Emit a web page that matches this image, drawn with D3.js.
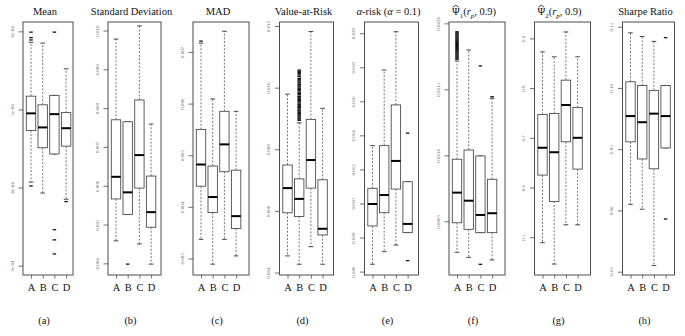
<!DOCTYPE html>
<html>
<head>
<meta charset="utf-8">
<script src="https://cdn.jsdelivr.net/npm/d3@7"></script>
<style>
  body { margin: 0; background: #fff; }
  svg { display: block; }
  svg text { font-family: "Liberation Serif", "DejaVu Serif", serif; }
</style>
</head>
<body>
<svg id="chart" width="685" height="336"></svg>
<script>
const categories = ['A', 'B', 'C', 'D']
const captions = ['(a)', '(b)', '(c)', '(d)', '(e)', '(f)', '(g)', '(h)']

// each box: [lower whisker, Q1, median, Q3, upper whisker]
const meanBoxes = [
  [4.07e-4, 4.73e-4, 4.95e-4, 5.17e-4, 5.86e-4],
  [3.93e-4, 4.51e-4, 4.77e-4, 5.06e-4, 5.85e-4],
  [4.43e-4, 4.43e-4, 4.94e-4, 5.18e-4, 5.18e-4],
  [3.85e-4, 4.53e-4, 4.76e-4, 4.96e-4, 5.52e-4]
]
const meanOutliers = [[5.89e-4, 5.92e-4, 5.99e-4, 4.02e-4], [], [5.99e-4, 3.46e-4, 3.33e-4, 3.15e-4], [3.82e-4]]
const meanTicks = [6e-4, 5e-4, 4e-4, 3e-4]
const meanTickLabels = ['6e-04', '5e-04', '4e-04', '3e-04']
const meanLimits = [2.88e-4, 6.12e-4]

const sdBoxes = [
  [4.58e-3, 5.66e-3, 6.23e-3, 7.70e-3, 9.78e-3],
  [5.26e-3, 5.26e-3, 5.83e-3, 7.65e-3, 7.65e-3],
  [4.50e-3, 5.94e-3, 6.79e-3, 8.21e-3, 10.12e-3],
  [3.98e-3, 4.93e-3, 5.32e-3, 6.25e-3, 7.59e-3]
]
const sdOutliers = [[], [3.98e-3], [], []]
const sdTicks = [0.010, 0.009, 0.008, 0.007, 0.006, 0.005, 0.004]
const sdTickLabels = ['0.010', '0.009', '0.008', '0.007', '0.006', '0.005', '0.004']
const sdLimits = [3.70e-3, 10.22e-3]

const madBoxes = [
  [3.37e-3, 4.40e-3, 4.82e-3, 5.50e-3, 7.17e-3],
  [2.89e-3, 3.89e-3, 4.19e-3, 4.79e-3, 6.09e-3],
  [3.37e-3, 4.68e-3, 5.21e-3, 5.85e-3, 7.40e-3],
  [3.05e-3, 3.58e-3, 3.82e-3, 4.71e-3, 5.85e-3]
]
const madOutliers = [[7.21e-3], [], [], []]
const madTicks = [0.007, 0.006, 0.005, 0.004, 0.003]
const madTickLabels = ['0.007', '0.006', '0.005', '0.004', '0.003']
const madLimits = [2.68e-3, 7.58e-3]

const varBoxes = [
  [4.54e-3, 5.94e-3, 6.74e-3, 7.49e-3, 9.79e-3],
  [4.27e-3, 5.82e-3, 6.39e-3, 7.04e-3, 8.86e-3],
  [4.84e-3, 6.74e-3, 7.65e-3, 8.97e-3, 11.82e-3],
  [4.27e-3, 5.22e-3, 5.42e-3, 7.01e-3, 9.33e-3]
]
const varOutliers = [
  [],
  [10.57e-3, 10.53e-3, 10.49e-3, 10.45e-3, 10.41e-3, 10.36e-3, 10.30e-3, 10.26e-3, 10.22e-3, 10.18e-3,
   10.15e-3, 10.10e-3, 10.06e-3, 10.02e-3, 9.98e-3, 9.94e-3, 9.90e-3, 9.85e-3, 9.81e-3, 9.77e-3,
   9.72e-3, 9.69e-3, 9.66e-3, 9.62e-3, 9.58e-3, 9.54e-3, 9.50e-3, 9.46e-3, 9.43e-3, 9.39e-3,
   9.35e-3, 9.31e-3, 9.27e-3, 9.24e-3, 9.20e-3, 9.16e-3, 9.12e-3, 9.08e-3, 9.05e-3, 9.01e-3,
   8.98e-3, 8.94e-3],
  [],
  []
]
const varTicks = [0.012, 0.010, 0.008, 0.006, 0.004]
const varTickLabels = ['0.012', '0.010', '0.008', '0.006', '0.004']
const varLimits = [3.92e-3, 12.13e-3]

const alphaBoxes = [
  [6.43e-3, 8.68e-3, 9.97e-3, 10.89e-3, 13.40e-3],
  [7.17e-3, 9.46e-3, 10.50e-3, 13.40e-3, 17.84e-3],
  [7.56e-3, 10.85e-3, 12.50e-3, 15.79e-3, 20.09e-3],
  [8.29e-3, 8.29e-3, 8.80e-3, 11.28e-3, 11.28e-3]
]
const alphaOutliers = [[], [], [], [14.13e-3, 6.64e-3]]
const alphaTicks = [0.020, 0.018, 0.016, 0.014, 0.012, 0.010, 0.008, 0.006]
const alphaTickLabels = ['0.020', '0.018', '0.016', '0.014', '0.012', '0.010', '0.008', '0.006']
const alphaLimits = [5.80e-3, 20.66e-3]

const psi1Boxes = [
  [2.65e-4, 4.89e-4, 7.17e-4, 9.70e-4, 17.14e-4],
  [2.27e-4, 4.39e-4, 6.56e-4, 10.40e-4, 17.98e-4],
  [4.14e-4, 4.14e-4, 5.48e-4, 9.95e-4, 9.95e-4],
  [2.07e-4, 4.14e-4, 5.61e-4, 8.18e-4, 14.32e-4]
]
const psi1Outliers = [
  [19.36e-4, 19.28e-4, 19.20e-4, 19.12e-4, 19.04e-4, 18.96e-4, 18.88e-4, 18.80e-4, 18.72e-4, 18.64e-4,
   18.56e-4, 18.48e-4, 18.40e-4, 18.32e-4, 18.24e-4, 18.16e-4, 18.08e-4, 18.00e-4, 17.92e-4, 17.84e-4,
   17.76e-4, 17.68e-4, 17.60e-4, 17.52e-4, 17.44e-4, 17.36e-4, 17.28e-4],
  [],
  [16.77e-4, 1.74e-4],
  [14.44e-4]
]
const psi1Ticks = [0.0020, 0.0015, 0.0010, 0.0005]
const psi1TickLabels = ['0.0020', '0.0015', '0.0010', '0.0005']
const psi1Limits = [0.93e-4, 20.1e-4]

const psi2Boxes = [
  [0.489, 0.625, 0.680, 0.747, 0.873],
  [0.446, 0.572, 0.671, 0.749, 0.863],
  [0.525, 0.692, 0.766, 0.816, 0.913],
  [0.525, 0.637, 0.700, 0.761, 0.863]
]
const psi2Outliers = [[], [], [], []]
const psi2Ticks = [0.9, 0.8, 0.7, 0.6, 0.5]
const psi2TickLabels = ['0.9', '0.8', '0.7', '0.6', '0.5']
const psi2Limits = [0.424, 0.933]

const sharpeBoxes = [
  [0.005, 0.056, 0.077, 0.105, 0.145],
  [0.001, 0.042, 0.072, 0.102, 0.142],
  [-0.045, 0.034, 0.079, 0.098, 0.138],
  [0.051, 0.051, 0.077, 0.102, 0.102]
]
const sharpeOutliers = [[], [], [], [0.141, -0.007]]
const sharpeTicks = [0.15, 0.10, 0.05, 0.00, -0.05]
const sharpeTickLabels = ['0.15', '0.10', '0.05', '0.00', '-0.05']
const sharpeLimits = [-0.0527, 0.1538]

// titles as text runs (it = italic, sub = subscript, hat = circumflex over the glyph)
const titles = [
  [{ t: 'Mean' }],
  [{ t: 'Standard Deviation' }],
  [{ t: 'MAD' }],
  [{ t: 'Value-at-Risk' }],
  [{ t: 'α', it: true }, { t: '-risk (' }, { t: 'α', it: true }, { t: ' = 0.1)' }],
  [{ t: 'Ψ', hat: true }, { t: '1', sub: true }, { t: '(' }, { t: 'r', it: true }, { t: 'p', it: true, sub: true }, { t: ', 0.9)' }],
  [{ t: 'Ψ', hat: true }, { t: '2', sub: true }, { t: '(' }, { t: 'r', it: true }, { t: 'p', it: true, sub: true }, { t: ', 0.9)' }],
  [{ t: 'Sharpe Ratio' }]
]

const panels = [
  { boxes: meanBoxes, outliers: meanOutliers, ticks: meanTicks, labels: meanTickLabels, limits: meanLimits },
  { boxes: sdBoxes, outliers: sdOutliers, ticks: sdTicks, labels: sdTickLabels, limits: sdLimits },
  { boxes: madBoxes, outliers: madOutliers, ticks: madTicks, labels: madTickLabels, limits: madLimits },
  { boxes: varBoxes, outliers: varOutliers, ticks: varTicks, labels: varTickLabels, limits: varLimits },
  { boxes: alphaBoxes, outliers: alphaOutliers, ticks: alphaTicks, labels: alphaTickLabels, limits: alphaLimits },
  { boxes: psi1Boxes, outliers: psi1Outliers, ticks: psi1Ticks, labels: psi1TickLabels, limits: psi1Limits },
  { boxes: psi2Boxes, outliers: psi2Outliers, ticks: psi2Ticks, labels: psi2TickLabels, limits: psi2Limits },
  { boxes: sharpeBoxes, outliers: sharpeOutliers, ticks: sharpeTicks, labels: sharpeTickLabels, limits: sharpeLimits }
]

// layout
const serif = '"Liberation Serif", "DejaVu Serif", serif'
const frameTop = 22
const frameBottom = 275
const frameLefts = [23, 108, 193, 279.5, 364.5, 449, 534.5, 622.5]
const frameWidths = [50, 53, 56, 54, 54, 56, 56, 52]
const boxW = 9.4
const capW = 4.7
const outW = 3.5
const lineColor = '#4d4d4d'

const svg = d3.select('#chart')

panels.forEach((p, i) => {
  const left = frameLefts[i]
  const w = frameWidths[i]
  const g = svg.append('g')

  const y = d3.scaleLinear().domain(p.limits).range([frameBottom, frameTop])
  const x = d3.scalePoint().domain(categories).range([left + 8, left + 43.1])

  // title
  const title = g.append('text')
    .attr('x', left + w / 2 - 3)
    .attr('y', 15)
    .attr('text-anchor', 'middle')
    .attr('font-family', serif)
    .attr('font-size', 10.5)
    .attr('fill', '#111')
  let inSub = false
  titles[i].forEach((s) => {
    const ts = title.append('tspan').text(s.t)
    if (s.it) ts.attr('font-style', 'italic')
    if (s.sub && !inSub) { ts.attr('dy', 2.5); inSub = true }
    else if (!s.sub && inSub) { ts.attr('dy', -2.5); inSub = false }
    if (s.sub) ts.attr('font-size', 7)
  })
  // hats drawn over the glyphs flagged with hat
  titles[i].forEach((s, k) => {
    if (!s.hat) return
    const node = title.selectAll('tspan').nodes()[k]
    const ext = node.getExtentOfChar(0)
    const cx = ext.x + ext.width / 2
    g.append('path')
      .attr('d', `M${cx - 3},${ext.y + 1.2} L${cx},${ext.y - 0.8} L${cx + 3},${ext.y + 1.2}`)
      .attr('fill', 'none').attr('stroke', '#111').attr('stroke-width', 0.8)
  })

  // y axis
  const yAxis = g.append('g')
    .attr('transform', `translate(${left},0)`)
    .call(d3.axisLeft(y).tickValues(p.ticks).tickFormat((d, k) => p.labels[k]).tickSize(4.5))
  yAxis.select('.domain').remove()
  yAxis.selectAll('line').attr('stroke', lineColor).attr('stroke-width', 0.8)
  yAxis.selectAll('text')
    .attr('x', 0).attr('dy', null).attr('y', 0)
    .attr('transform', 'translate(-9.5,0) rotate(-90)')
    .attr('text-anchor', 'middle')
    .attr('font-family', serif)
    .attr('font-size', 5)
    .attr('fill', '#6e6684')

  // x axis
  const xAxis = g.append('g')
    .attr('transform', `translate(0,${frameBottom})`)
    .call(d3.axisBottom(x).tickSize(3.5))
  xAxis.select('.domain').remove()
  xAxis.selectAll('line').attr('stroke', lineColor).attr('stroke-width', 0.8)
  xAxis.selectAll('text')
    .attr('y', 16).attr('dy', null)
    .attr('font-family', serif)
    .attr('font-size', 10.5)
    .attr('fill', '#111')

  // frame
  g.append('rect')
    .attr('x', left).attr('y', frameTop)
    .attr('width', w).attr('height', frameBottom - frameTop)
    .attr('fill', 'none').attr('stroke', lineColor).attr('stroke-width', 1)

  // boxes
  const items = g.selectAll('g.box').data(p.boxes).join('g').attr('class', 'box')
  items.each(function (b, k) {
    const bx = x(categories[k])
    const s = d3.select(this)
    // whiskers
    s.append('line')
      .attr('x1', bx).attr('x2', bx).attr('y1', y(b[3])).attr('y2', y(b[4]))
      .attr('stroke', '#555').attr('stroke-width', 0.8).attr('stroke-dasharray', '2,1.6')
    s.append('line')
      .attr('x1', bx).attr('x2', bx).attr('y1', y(b[1])).attr('y2', y(b[0]))
      .attr('stroke', '#555').attr('stroke-width', 0.8).attr('stroke-dasharray', '2,1.6')
    ;[b[0], b[4]].forEach((v) => {
      s.append('line')
        .attr('x1', bx - capW / 2).attr('x2', bx + capW / 2).attr('y1', y(v)).attr('y2', y(v))
        .attr('stroke', '#333').attr('stroke-width', 0.9)
    })
    // box
    s.append('rect')
      .attr('x', bx - boxW / 2).attr('y', y(b[3]))
      .attr('width', boxW).attr('height', y(b[1]) - y(b[3]))
      .attr('fill', '#fff').attr('stroke', lineColor).attr('stroke-width', 0.9)
    // median
    s.append('line')
      .attr('x1', bx - boxW / 2).attr('x2', bx + boxW / 2).attr('y1', y(b[2])).attr('y2', y(b[2]))
      .attr('stroke', '#000').attr('stroke-width', 2)
    // outliers
    s.selectAll('line.out').data(p.outliers[k]).join('line').attr('class', 'out')
      .attr('x1', bx - outW / 2).attr('x2', bx + outW / 2)
      .attr('y1', (d) => y(d)).attr('y2', (d) => y(d))
      .attr('stroke', '#111').attr('stroke-width', 1.3)
  })

  // caption
  g.append('text')
    .attr('x', left + w / 2 - 4)
    .attr('y', 324)
    .attr('text-anchor', 'middle')
    .attr('font-family', serif)
    .attr('font-size', 10.5)
    .attr('fill', '#111')
    .text(captions[i])
})
</script>
</body>
</html>
